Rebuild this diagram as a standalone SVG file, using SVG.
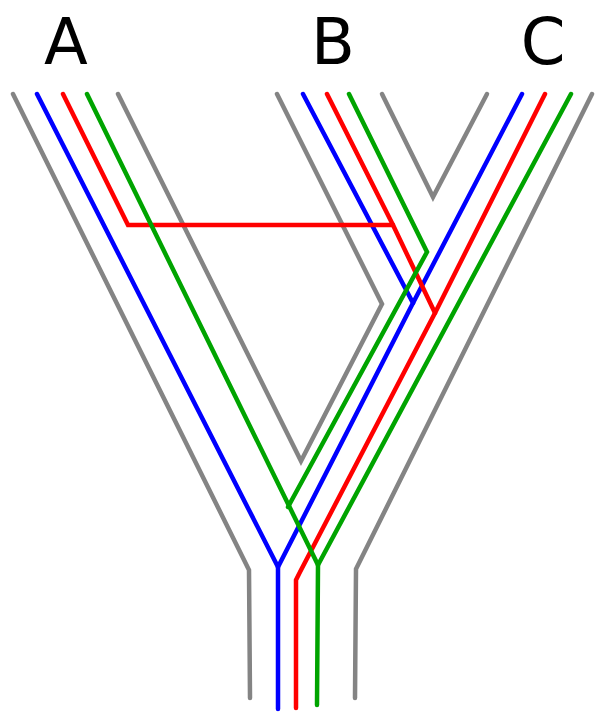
<svg xmlns="http://www.w3.org/2000/svg" width="595" height="712" viewBox="0 0 595 712">
  <style>
    .lbl { font-family: "DejaVu Sans", "Liberation Sans", sans-serif; font-size: 64px; fill: #000; text-anchor: middle; }
    .ln { fill: none; stroke-width: 4.5; stroke-linejoin: miter; stroke-linecap: round; }
    .gray { stroke: #848484; }
    .blue { stroke: #0000ff; }
    .red { stroke: #ff0000; }
    .green { stroke: #00a400; }
  </style>
  <rect width="595" height="712" fill="#ffffff"/>

  <!-- species labels -->
  <g id="label-A"><text class="lbl" x="66" y="64">A</text></g>
  <g id="label-B"><text class="lbl" x="333" y="64">B</text></g>
  <g id="label-C"><text class="lbl" x="543" y="64">C</text></g>

  <!-- species tree outline (gray tubes) -->
  <g id="species-tree">
    <path class="ln gray" d="M13,94 L249,570 L250,698"/>
    <path class="ln gray" d="M592,94 L356,569 L355,698"/>
    <path class="ln gray" d="M118,94 L301,461 L382,304 L277,94"/>
    <path class="ln gray" d="M382,94 L433,197 L487,94"/>
  </g>

  <!-- gene lineages -->
  <g id="gene-lineages">
    <g id="blue-gene">
      <path class="ln blue" d="M37,94 L278,567 L278,709"/>
      <path class="ln blue" d="M303,94 L413,303"/>
      <path class="ln blue" d="M522,94 L413,303 L278,567"/>
    </g>
    <g id="red-gene">
      <path class="ln red" d="M63,94 L128,225 L393,225"/>
      <path class="ln red" d="M327,94 L393,225 L435,313"/>
      <path class="ln red" d="M545,94 L435,313 L300,572 L296,580 L296,708"/>
    </g>
    <g id="green-gene">
      <path class="ln green" d="M87,94 L318,565 L317,705"/>
      <path class="ln green" d="M349,94 L427,252 L288,507"/>
      <path class="ln green" d="M571,94 L318,565"/>
    </g>
  </g>
</svg>
